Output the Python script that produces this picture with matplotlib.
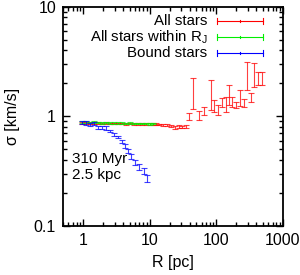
import matplotlib
matplotlib.use("Agg")
import matplotlib.pyplot as plt
from matplotlib.ticker import FixedLocator, FixedFormatter, LogLocator, NullFormatter

plt.rcParams['font.family'] = ['Liberation Sans', 'DejaVu Sans']

# All stars
r_all = [0.95, 1.1, 1.25, 1.45, 1.65, 1.9, 2.2, 2.5, 2.9, 3.3, 3.8, 4.4, 5.0, 5.8, 6.6, 7.6, 8.7, 10.0,
         11.2, 12.5, 14, 16, 18.5, 21, 24, 27.5, 31, 35,
         38.5, 44.3, 54.6, 65, 82.8, 92, 106, 121.6, 139.7, 155, 172, 198, 227, 261, 290, 333, 370, 420, 490]
s_all = [0.875, 0.87, 0.87, 0.875, 0.87, 0.865, 0.87, 0.86, 0.865, 0.86, 0.86, 0.855, 0.86, 0.85, 0.855, 0.85, 0.85, 0.85,
         0.855, 0.85, 0.845, 0.84, 0.83, 0.82, 0.79, 0.81, 0.80, 0.81,
         1.0, 1.71, 1.02, 1.12, 1.65, 1.25, 1.15, 1.34, 1.3, 1.6, 1.35, 1.28, 1.5, 1.33, 2.45, 1.5, 2.47, 2.25, 2.25]
e_all = [0.015, 0.015, 0.015, 0.015, 0.015, 0.015, 0.015, 0.015, 0.015, 0.015, 0.015, 0.015, 0.015, 0.015, 0.015, 0.015, 0.015, 0.015,
         0.015, 0.015, 0.015, 0.015, 0.02, 0.02, 0.02, 0.02, 0.02, 0.025,
         0.075, 0.55, 0.09, 0.09, 0.5, 0.15, 0.12, 0.13, 0.2, 0.33, 0.14, 0.08, 0.26, 0.12, 0.7, 0.15, 0.6, 0.3, 0.3]

# All stars within R_J
r_rj = [0.95, 1.1, 1.25, 1.45, 1.65, 1.9, 2.2, 2.5, 2.9, 3.3, 3.8, 4.4, 5.0, 5.8, 6.6, 7.6, 8.7, 10.0, 11.2]
s_rj = [0.89, 0.885, 0.88, 0.885, 0.88, 0.875, 0.88, 0.87, 0.875, 0.87, 0.87, 0.865, 0.87, 0.86, 0.865, 0.86, 0.86, 0.855, 0.86]
e_rj = [0.015, 0.015, 0.015, 0.015, 0.015, 0.015, 0.015, 0.015, 0.015, 0.015, 0.015, 0.015, 0.015, 0.015, 0.015, 0.015, 0.015, 0.015, 0.015]

# Bound stars
r_b = [0.95, 1.1, 1.25, 1.45, 1.65, 1.9, 2.2, 2.5, 2.9, 3.3, 3.8, 4.3, 4.8, 5.3, 6.1, 7.0, 8.1, 9.0]
s_b = [0.88, 0.87, 0.85, 0.86, 0.80, 0.80, 0.785, 0.74, 0.69, 0.65, 0.595, 0.54, 0.48, 0.43, 0.38, 0.345, 0.32, 0.27]
e_b = [0.03, 0.03, 0.025, 0.03, 0.025, 0.025, 0.025, 0.02, 0.02, 0.02, 0.02, 0.02, 0.02, 0.02, 0.02, 0.02, 0.02, 0.02]

labels = ["All stars", "All stars within R$_\\mathregular{J}$", "Bound stars"]
colors = ["#ff0000", "#00ee00", "#0000ff"]

fig = plt.figure(figsize=(3.0, 2.75), dpi=100)
ax = fig.add_axes([0.21, 0.178, 0.733, 0.797])

series = [(r_all, s_all, e_all), (r_rj, s_rj, e_rj), (r_b, s_b, e_b)]
for (r, s, e), c in zip(series, colors):
    ax.errorbar(r, s, yerr=e, fmt='none', ecolor=c, elinewidth=0.8, capsize=2, capthick=0.8, alpha=0.75)

ax.set_xscale('log')
ax.set_yscale('log')
ax.set_xlim(0.5, 1000)
ax.set_ylim(0.1, 10)

ax.xaxis.set_major_locator(FixedLocator([1, 10, 100, 1000]))
ax.xaxis.set_major_formatter(FixedFormatter(["1", "10", "100", "1000"]))
ax.yaxis.set_major_locator(FixedLocator([0.1, 1, 10]))
ax.yaxis.set_major_formatter(FixedFormatter(["0.1", "1", "10"]))
for a in (ax.xaxis, ax.yaxis):
    a.set_minor_locator(LogLocator(base=10, subs=range(2, 10), numticks=20))
    a.set_minor_formatter(NullFormatter())

ax.tick_params(which='both', direction='in', top=True, right=True, labelsize=11.5, width=1.0)
ax.tick_params(which='major', length=5, pad=5)
ax.tick_params(which='minor', length=3)
for sp in ax.spines.values():
    sp.set_linewidth(1.3)

ax.set_xlabel("R [pc]", fontsize=11.5, labelpad=5)
ax.set_ylabel("σ [km/s]", fontsize=11.5, labelpad=10)

# key
ys = [0.936, 0.862, 0.790]
for lab, c, y in zip(labels, colors, ys):
    ax.text(0.655, y, lab, transform=ax.transAxes, ha='right', va='center', fontsize=10.8)
    ax.plot([0.70, 0.909], [y, y], transform=ax.transAxes, color=c, lw=0.8)
    for xx in (0.70, 0.909):
        ax.plot([xx, xx], [y - 0.012, y + 0.012], transform=ax.transAxes, color=c, lw=0.8)
    ax.plot([0.8045, 0.8045], [y - 0.006, y + 0.006], transform=ax.transAxes, color=c, lw=0.8)

ax.text(0.04, 0.27, "310 Myr\n2.5 kpc", transform=ax.transAxes, ha='left', va='center',
        fontsize=11, linespacing=1.15)

fig.savefig("out.png", dpi=100)
